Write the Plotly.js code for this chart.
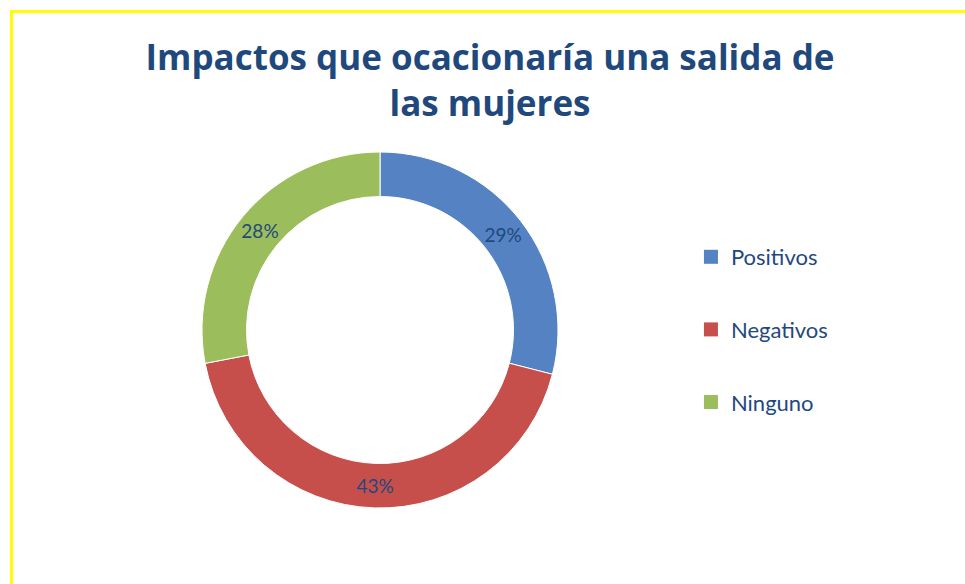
<!DOCTYPE html>
<html>
<head>
<meta charset="utf-8">
<script src="https://cdn.plot.ly/plotly-3.0.1.min.js"></script>
<style>
  html, body { margin: 0; padding: 0; background: #ffffff; overflow: hidden; }
  #wrap { position: absolute; left: 0; top: 0; width: 965px; height: 584px; }
  #chart { position: absolute; left: 0; top: 0; width: 965px; height: 584px; }
  #frame { position: absolute; left: 10px; top: 10px; width: 980px; height: 600px;
           border-top: 3px solid #ffff00; border-left: 3px solid #ffff00; pointer-events: none; }
</style>
</head>
<body>
<div id="wrap">
  <div id="chart"></div>
  <div id="frame"></div>
</div>
<script>
const categories = ["Positivos", "Negativos", "Ninguno"];
const values = [29, 43, 28];
const colors = ["#5482C2", "#C64F4C", "#9CBD5B"];
const titleText = "Impactos que ocacionaría una salida de<br>las mujeres";

const textColor = "#1F497D";
const fontFamily = "Lato, 'Open Sans', 'DejaVu Sans', sans-serif";
const titleFamily = "'Open Sans', Lato, 'DejaVu Sans', sans-serif";

const pie = {
  type: "pie",
  labels: categories,
  values: values,
  hole: 0.75,
  sort: false,
  direction: "clockwise",
  rotation: 0,
  textinfo: "percent",
  texttemplate: "%{percent:.0%}",
  textposition: "inside",
  insidetextorientation: "horizontal",
  textfont: { family: fontFamily, size: 19, color: textColor },
  marker: { colors: colors, line: { color: "#ffffff", width: 1 } },
  domain: { x: [202 / 965, 558 / 965], y: [76 / 584, 432 / 584] },
  showlegend: false,
  hoverinfo: "label+percent"
};

// legend entries (one per category) so that spacing between entries can be set
const legendTraces = categories.map((c, i) => ({
  type: "scatter",
  mode: "markers",
  x: [null],
  y: [null],
  name: c,
  legendgroup: "g" + i,
  marker: { symbol: "square", size: 14, color: colors[i] },
  hoverinfo: "skip"
}));

const layout = {
  width: 965,
  height: 584,
  margin: { l: 0, r: 0, t: 0, b: 0 },
  paper_bgcolor: "#ffffff",
  plot_bgcolor: "rgba(0,0,0,0)",
  title: {
    text: titleText,
    font: { family: titleFamily, size: 35, color: textColor, weight: "bold" },
    x: 490 / 965,
    xanchor: "center",
    y: 1 - 70 / 584,
    yanchor: "top"
  },
  xaxis: { visible: false },
  yaxis: { visible: false },
  showlegend: true,
  legend: {
    x: 0.716,
    xanchor: "left",
    y: 1 - 236 / 584,
    yanchor: "top",
    traceorder: "grouped",
    tracegroupgap: 41,
    font: { family: fontFamily, size: 22, color: textColor },
    bgcolor: "rgba(0,0,0,0)",
    itemclick: false
  }
};

Plotly.newPlot("chart", [pie].concat(legendTraces), layout, { displayModeBar: false, staticPlot: true });
</script>
</body>
</html>
